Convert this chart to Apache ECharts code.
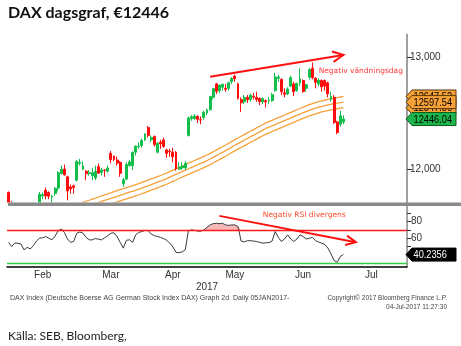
<!DOCTYPE html>
<html>
<head>
<meta charset="utf-8">
<script src="https://cdn.jsdelivr.net/npm/echarts@6/dist/echarts.min.js"></script>
<style>
  html, body { margin: 0; padding: 0; background: #fff; }
  #chart { width: 461px; height: 346px; }
</style>
</head>
<body>
<div id="chart"></div>
<script>
// ---- trading calendar -------------------------------------------------------
const firstDay = '2017-01-30';
const lastDay = '2017-08-01';
const closedDays = ['2017-04-14', '2017-04-17', '2017-05-01'];
const monthNames = ['Jan', 'Feb', 'Mar', 'Apr', 'May', 'Jun', 'Jul', 'Aug', 'Sep', 'Oct', 'Nov', 'Dec'];

// ---- DAX daily candles from 30 Jan 2017 ------------------------------------
const opens = [
  11790, 11660, 11600, 11640, 11600, 11640, 11530, 11560, 11580, 11660,
  11700, 11760, 11810, 11790, 11750, 11780, 11830, 11960, 12000, 11930,
  11840, 11850, 11900, 12050, 12000, 11980, 11960, 11940, 11920, 12020,
  11970, 11990, 11980, 12140, 12115, 12080, 12060, 11870, 11910, 12030,
  12030, 12150, 12200, 12210, 12260, 12370, 12260, 12290, 12150, 12240,
  12260, 12170, 12160, 12150, 12150, 12000, 12010, 12010, 12300, 12450,
  12450, 12470, 12440, 12460, 12500, 12530, 12640, 12760, 12700, 12730,
  12720, 12720, 12780, 12830, 12760, 12620, 12600, 12640, 12620, 12650,
  12640, 12630, 12600, 12610, 12610, 12610, 12700, 12810, 12800, 12680,
  12670, 12740, 12760, 12700, 12770, 12790, 12720, 12820, 12900, 12810,
  12760, 12790, 12790, 12770, 12620, 12640, 12420, 12400, 12420
];
const closes = [
  11681, 11535, 11627, 11627, 11651, 11510, 11549, 11543, 11643, 11666,
  11774, 11771, 11760, 11757, 11757, 11827, 11967, 11998, 11948, 11804,
  11822, 11834, 12067, 12059, 12027, 11958, 11967, 11967, 11978, 11963,
  11990, 11988, 12009, 12083, 12085, 12052, 11962, 11904, 12040, 12064,
  12149, 12203, 12204, 12256, 12313, 12300, 12282, 12218, 12230, 12225,
  12201, 12139, 12154, 12109, 12000, 12017, 12027, 12049, 12455, 12467,
  12473, 12444, 12438, 12507, 12527, 12648, 12717, 12694, 12749, 12757,
  12711, 12770, 12808, 12805, 12631, 12591, 12638, 12619, 12659, 12642,
  12621, 12602, 12629, 12599, 12615, 12664, 12822, 12822, 12690, 12667,
  12714, 12816, 12690, 12765, 12806, 12692, 12752, 12888, 12815, 12774,
  12794, 12733, 12740, 12671, 12647, 12416, 12325, 12475, 12446.04
];
const lows = [
  11650, 11500, 11570, 11560, 11580, 11480, 11480, 11500, 11570, 11620,
  11690, 11730, 11730, 11730, 11700, 11760, 11800, 11950, 11940, 11720,
  11780, 11780, 11890, 12030, 11990, 11900, 11940, 11900, 11900, 11960,
  11940, 11930, 11970, 12050, 12070, 12030, 11930, 11840, 11900, 12020,
  11990, 12120, 12180, 12190, 12250, 12280, 12240, 12200, 12140, 12180,
  12190, 12100, 12110, 12060, 11985, 11990, 11990, 11990, 12290, 12430,
  12440, 12410, 12400, 12440, 12480, 12520, 12620, 12670, 12680, 12700,
  12690, 12700, 12760, 12780, 12620, 12510, 12580, 12590, 12600, 12620,
  12600, 12570, 12580, 12550, 12580, 12600, 12690, 12780, 12660, 12640,
  12660, 12730, 12650, 12690, 12740, 12680, 12690, 12800, 12800, 12720,
  12740, 12690, 12700, 12640, 12600, 12400, 12310, 12380, 12400
];
const highs = [
  11800, 11715, 11706, 11660, 11680, 11650, 11580, 11600, 11680, 11690,
  11795, 11790, 11835, 11800, 11770, 11840, 11980, 12030, 12040, 11940,
  11860, 11860, 12080, 12090, 12070, 11990, 11990, 12010, 12030, 12050,
  12010, 12000, 12030, 12160, 12120, 12110, 12070, 11920, 12060, 12080,
  12155, 12210, 12240, 12270, 12320, 12385, 12300, 12300, 12240, 12260,
  12280, 12180, 12180, 12190, 12160, 12060, 12060, 12070, 12470, 12480,
  12490, 12480, 12470, 12520, 12540, 12650, 12720, 12770, 12750, 12760,
  12760, 12780, 12820, 12841, 12770, 12640, 12660, 12660, 12670, 12680,
  12690, 12640, 12640, 12620, 12640, 12680, 12860, 12840, 12810, 12720,
  12730, 12830, 12780, 12770, 12900, 12800, 12760, 12900, 12951, 12820,
  12810, 12800, 12800, 12780, 12690, 12660, 12430, 12520, 12480
];

// ---- envelope lines from 1 Mar 2017 ----------------------------------------
const envelopeFrom = '2017-03-01';
const envUpper = [
  11685, 11694, 11703, 11712, 11721, 11731, 11740, 11750, 11760, 11769,
  11778, 11787, 11797, 11806, 11815, 11824, 11834, 11843, 11850, 11860,
  11870, 11880, 11890, 11900, 11911, 11921, 11932, 11942, 11953, 11964,
  11977, 11990, 12002, 12015, 12027, 12040, 12052, 12064, 12076, 12088,
  12100, 12112, 12125, 12139, 12154, 12169, 12184, 12199, 12214, 12230,
  12247, 12262, 12277, 12292, 12307, 12322, 12337, 12352, 12367, 12382,
  12397, 12412, 12423, 12435, 12447, 12459, 12470, 12482, 12494, 12505,
  12517, 12529, 12540, 12552, 12563, 12574, 12584, 12593, 12601, 12609,
  12616, 12622, 12628, 12633, 12638, 12643, 12647.52
];
const envMiddle = [
  11635, 11644, 11653, 11662, 11671, 11681, 11690, 11700, 11710, 11719,
  11728, 11737, 11747, 11756, 11765, 11774, 11784, 11793, 11800, 11810,
  11820, 11830, 11840, 11850, 11861, 11871, 11882, 11892, 11903, 11914,
  11927, 11940, 11952, 11965, 11977, 11990, 12002, 12014, 12026, 12038,
  12050, 12062, 12075, 12089, 12104, 12119, 12134, 12149, 12164, 12180,
  12197, 12212, 12227, 12242, 12257, 12272, 12287, 12302, 12317, 12332,
  12347, 12362, 12373, 12385, 12397, 12409, 12420, 12432, 12444, 12455,
  12467, 12479, 12490, 12502, 12513, 12524, 12534, 12543, 12551, 12559,
  12566, 12572, 12578, 12583, 12588, 12593, 12597.54
];
const envLower = [
  11585, 11594, 11603, 11612, 11621, 11631, 11640, 11650, 11660, 11669,
  11678, 11687, 11697, 11706, 11715, 11724, 11734, 11743, 11750, 11760,
  11770, 11780, 11790, 11800, 11811, 11821, 11832, 11842, 11853, 11864,
  11877, 11890, 11902, 11915, 11927, 11940, 11952, 11964, 11976, 11988,
  12000, 12012, 12025, 12039, 12054, 12069, 12084, 12099, 12114, 12130,
  12147, 12162, 12177, 12192, 12207, 12222, 12237, 12252, 12267, 12282,
  12297, 12312, 12323, 12335, 12347, 12359, 12370, 12382, 12394, 12405,
  12417, 12429, 12440, 12452, 12463, 12474, 12484, 12493, 12501, 12509,
  12516, 12522, 12528, 12533, 12538, 12543, 12547.56
];

// ---- RSI (14) from 30 Jan 2017 ----------------------------------------------
const rsi = [
  55, 50, 54, 54, 53, 46, 49, 47, 51, 56.5,
  60, 60.5, 62, 60, 58, 62.5, 69, 71, 67, 59,
  55, 56, 66, 67.5, 66, 61, 58, 58, 59.6, 58.8,
  58, 60.5, 63, 66, 66.5, 62, 55, 48, 57.5, 58,
  55, 64, 67, 68, 69.5, 69, 65, 63, 62, 61,
  59.5, 57.5, 54, 49.5, 43, 42.5, 43.5, 46, 69, 70,
  69.5, 68.5, 68.5, 70, 73, 76, 77.5, 78, 77.5, 78,
  76, 75.5, 76, 76, 74, 56.5, 55.5, 57, 57, 56.5,
  56, 55, 54, 54.5, 54.6, 56.5, 68, 61, 56, 59,
  64, 59, 56, 59, 64, 62, 59, 60, 61, 57,
  55.4, 54, 52.5, 48, 41, 33, 31, 38, 40.2356
];
const rsiUpper = 70;
const rsiLower = 30;

// ---- axis ticks --------------------------------------------------------------
const priceTicks = [12000, 13000];
const rsiTicks = [40, 50, 60, 70, 80, 90];
const rsiTickLabels = [40, 60, 80];

// ---- texts -------------------------------------------------------------------
const titleText = 'DAX dagsgraf, €12446';
const reversalNote = 'Negativ vändningsdag';
const divergenceNote = 'Negativ RSI divergens';
const yearText = '2017';
const footerLeft = 'DAX Index (Deutsche Boerse AG German Stock Index DAX) Graph 2d  Daily 05JAN2017-';
const footerRight1 = 'Copyright\u00a9 2017 Bloomberg Finance L.P.';
const footerRight2 = '04-Jul-2017 11:27:30';
const sourceText = 'Källa: SEB, Bloomberg,';

// annotation anchors in data space: [date, value]
const highTrend = [['2017-05-04', 12824], ['2017-07-04', 13018]];
const rsiTrend = [['2017-05-09', 86.9], ['2017-07-10', 55.2]];
const reversalNoteAt = ['2017-06-22', 12875];
const divergenceNoteAt = ['2017-05-29', 88];

// ---- build categories --------------------------------------------------------
const days = [];
for (let t = Date.parse(firstDay); t <= Date.parse(lastDay); t += 86400000) {
  const d = new Date(t);
  const wd = d.getUTCDay();
  const s = d.toISOString().slice(0, 10);
  if (wd !== 0 && wd !== 6 && !closedDays.includes(s)) days.push(s);
}
const monthOf = s => s.slice(0, 7);
const monthStart = new Set();
const monthRanges = {};
days.forEach((d, i) => {
  const m = monthOf(d);
  if (i > 0 && m !== monthOf(days[i - 1])) monthStart.add(i);
  if (!monthRanges[m]) monthRanges[m] = [i, i];
  monthRanges[m][1] = i;
});
const monthLabel = new Set();
Object.values(monthRanges).forEach(([a, b]) => {
  if (b - a >= 9) monthLabel.add(Math.floor((a + b) / 2));
});

const candles = opens.map((o, i) => [o, closes[i], lows[i], highs[i]]);
const envStart = days.indexOf(envelopeFrom);
const pad = arr => days.map((_, i) => (i >= envStart && i - envStart < arr.length) ? arr[i - envStart] : '-');
const rsiAbove = rsi.map(v => Math.max(v, rsiUpper));

const GREEN = '#13bf4a';
const RED = '#ff0d0d';
const ORANGE = '#f6a038';
const sansFont = '"Liberation Sans", Arial, sans-serif';

const envSeries = (arr) => ({
  type: 'line', xAxisIndex: 0, yAxisIndex: 0, data: pad(arr),
  showSymbol: false, clip: true, silent: true,
  lineStyle: { color: ORANGE, width: 1.3 }, z: 3
});

const option = {
  animation: false,
  grid: [
    { left: 7, top: 34.6, width: 400, height: 168 },
    { left: 7, top: 205, width: 400, height: 61.4 }
  ],
  xAxis: [
    { type: 'category', gridIndex: 0, data: days, boundaryGap: true, show: false },
    {
      type: 'category', gridIndex: 1, data: days, boundaryGap: true,
      axisLine: { lineStyle: { color: '#000', width: 1.5 } },
      axisTick: { interval: i => monthStart.has(i), length: 4, lineStyle: { color: '#000', width: 1 } },
      axisLabel: {
        interval: i => monthLabel.has(i),
        formatter: v => monthNames[+v.slice(5, 7) - 1],
        color: '#333', fontSize: 10, margin: 4, fontFamily: sansFont
      },
      splitLine: { show: false }
    }
  ],
  yAxis: [
    {
      type: 'value', gridIndex: 0, position: 'right', min: 11700, max: 13200,
      splitLine: { show: false },
      axisLine: { show: true, lineStyle: { color: '#808080', width: 1.5 } },
      axisTick: { show: true, customValues: priceTicks, length: 5, lineStyle: { color: '#333' } },
      axisLabel: { customValues: priceTicks, color: '#333', fontSize: 10, margin: 3, fontFamily: sansFont }
    },
    {
      type: 'value', gridIndex: 1, position: 'right', min: 26, max: 100,
      splitLine: { show: false },
      axisLine: { show: true, lineStyle: { color: '#808080', width: 1.5 } },
      axisTick: { show: true, customValues: rsiTicks, length: 4, lineStyle: { color: '#333' } },
      axisLabel: { customValues: rsiTickLabels, color: '#333', fontSize: 10, margin: 4, fontFamily: sansFont }
    }
  ],
  series: [
    envSeries(envUpper),
    envSeries(envMiddle),
    envSeries(envLower),
    {
      type: 'candlestick', xAxisIndex: 0, yAxisIndex: 0, data: candles,
      barWidth: 2.4, clip: true, silent: true, z: 4,
      itemStyle: { color: GREEN, color0: RED, borderColor: GREEN, borderColor0: RED, borderWidth: 1 }
    },
    {
      type: 'line', xAxisIndex: 1, yAxisIndex: 1, data: rsiAbove,
      showSymbol: false, silent: true,
      lineStyle: { width: 0, opacity: 0 },
      areaStyle: { origin: rsiUpper, color: '#f7b9b9', opacity: 1 }, z: 6
    },
    {
      type: 'line', xAxisIndex: 1, yAxisIndex: 1, data: rsi,
      showSymbol: false, silent: true,
      lineStyle: { color: '#3a3a3a', width: 1 }, z: 7,
      markLine: {
        silent: true, symbol: 'none', label: { show: false }, z: 8,
        data: [
          { yAxis: rsiUpper, lineStyle: { color: '#ff1a1a', width: 1.3, type: 'solid' } },
          { yAxis: rsiLower, lineStyle: { color: '#2fd043', width: 1.3, type: 'solid' } }
        ]
      }
    }
  ]
};

const chart = echarts.init(document.getElementById('chart'), null, { renderer: 'canvas' });
chart.setOption(option);

// ---- overlay: panel mask, value tags, trend arrows, captions ----------------
const toPx = (grid, d, v) => chart.convertToPixel({ gridIndex: grid }, [d, v]);
const yOf = (grid, v) => chart.convertToPixel({ yAxisIndex: grid }, v);
const rsiRect = chart.getModel().getComponent('grid', 1).coordinateSystem.getRect();
const priceRect = chart.getModel().getComponent('grid', 0).coordinateSystem.getRect();

function valueTag(y, fill, stroke, textFill, label, z) {
  return {
    type: 'group', z: z,
    children: [
      { type: 'polygon', z: z, shape: { points: [[406, y], [412, y - 6.5], [456, y - 6.5], [456, y + 6.5], [412, y + 6.5]] },
        style: { fill: fill, stroke: stroke, lineWidth: 1 } },
      { type: 'text', z: z, x: 413.5, y: y + 0.5, scaleX: 0.84,
        style: { text: label, fill: textFill, font: '11px ' + sansFont, verticalAlign: 'middle' } }
    ]
  };
}

function arrow(p0, p1, color, width, head) {
  const ang = Math.atan2(p1[1] - p0[1], p1[0] - p0[0]);
  const a1 = ang + Math.PI - 0.45, a2 = ang + Math.PI + 0.45;
  const h1 = [p1[0] + head * Math.cos(a1), p1[1] + head * Math.sin(a1)];
  const h2 = [p1[0] + head * Math.cos(a2), p1[1] + head * Math.sin(a2)];
  return [
    { type: 'line', z: 60, shape: { x1: p0[0], y1: p0[1], x2: p1[0], y2: p1[1] }, style: { stroke: color, lineWidth: width } },
    { type: 'polyline', z: 60, shape: { points: [h1, p1, h2] }, style: { stroke: color, lineWidth: width, fill: null } }
  ];
}

const lastIdx = closes.length - 1;
const upperLast = envUpper[envUpper.length - 1];
const middleLast = envMiddle[envMiddle.length - 1];
const lowerLast = envLower[envLower.length - 1];
const closeLast = closes[lastIdx];
const rsiLast = rsi[rsi.length - 1];

const gfx = [
  // keeps the price candles inside their own panel
  { type: 'rect', z: 4.5, silent: true,
    shape: { x: rsiRect.x, y: priceRect.y + priceRect.height, width: rsiRect.width - 0.8, height: rsiRect.y + rsiRect.height - priceRect.y - priceRect.height - 0.9 },
    style: { fill: '#fff' } },
  { type: 'text', x: 8, y: 5, z: 50, style: { text: titleText, font: 'bold 16px Lato, "Open Sans", sans-serif', fill: '#111' } },
  { type: 'rect', z: 40, shape: { x: 8, y: 202.6, width: 453, height: 3.4 }, style: { fill: '#8a8a8a' } },
  valueTag(yOf(0, upperLast), ORANGE, '#5a3a10', '#000', upperLast.toFixed(2), 70),
  valueTag(yOf(0, lowerLast), ORANGE, '#5a3a10', '#000', lowerLast.toFixed(2), 71),
  valueTag(yOf(0, middleLast), ORANGE, '#5a3a10', '#000', middleLast.toFixed(2), 72),
  valueTag(yOf(0, closeLast), '#1bb64b', '#0b5a20', '#000', closeLast.toFixed(2), 73),
  valueTag(yOf(1, rsiLast), '#000', '#000', '#fff', rsiLast.toFixed(4), 73),
  ...arrow(toPx(0, highTrend[0][0], highTrend[0][1]), toPx(0, highTrend[1][0], highTrend[1][1]), '#ff1010', 2, 12),
  ...arrow(toPx(1, rsiTrend[0][0], rsiTrend[0][1]), toPx(1, rsiTrend[1][0], rsiTrend[1][1]), '#ff1010', 2, 11),
  (() => { const p = toPx(0, reversalNoteAt[0], reversalNoteAt[1]);
    return { type: 'text', x: p[0], y: p[1], z: 61, style: { text: reversalNote, fill: '#ff3838', font: '7.5px "DejaVu Sans", sans-serif', verticalAlign: 'middle' } }; })(),
  (() => { const p = toPx(1, divergenceNoteAt[0], divergenceNoteAt[1]);
    return { type: 'text', x: p[0], y: p[1], z: 61, style: { text: divergenceNote, fill: '#ff4a2a', font: '7.5px "DejaVu Sans", sans-serif', verticalAlign: 'middle' } }; })(),
  { type: 'text', x: 207, y: 287, z: 50, style: { text: yearText, fill: '#333', font: '10px ' + sansFont, align: 'center', verticalAlign: 'middle' } },
  { type: 'text', x: 10, y: 298, z: 50, style: { text: footerLeft, fill: '#444', font: '7px ' + sansFont, verticalAlign: 'middle' } },
  { type: 'text', x: 447, y: 298, z: 50, style: { text: footerRight1, fill: '#444', font: '6.5px ' + sansFont, align: 'right', verticalAlign: 'middle' } },
  { type: 'text', x: 447, y: 307, z: 50, style: { text: footerRight2, fill: '#444', font: '6.5px ' + sansFont, align: 'right', verticalAlign: 'middle' } },
  { type: 'text', x: 8, y: 336, z: 50, style: { text: sourceText, fill: '#222', font: '12px Lato, "Open Sans", sans-serif', verticalAlign: 'middle' } }
];
chart.setOption({ graphic: gfx });
</script>
</body>
</html>
